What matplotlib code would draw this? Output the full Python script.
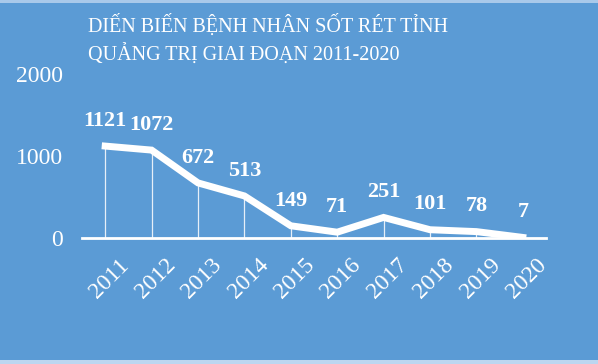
import numpy as np
import matplotlib.pyplot as plt
import matplotlib.transforms as mtransforms
from matplotlib.patches import Rectangle

years = ['2011', '2012', '2013', '2014', '2015', '2016', '2017', '2018', '2019', '2020']
patients = [1121, 1072, 672, 513, 149, 71, 251, 101, 78, 7]
yticks = [0, 1000, 2000]
title = "DIẾN BIẾN BỆNH NHÂN SỐT RÉT TỈNH\nQUẢNG TRỊ GIAI ĐOẠN 2011-2020"

bg = '#5b9bd5'
plt.rcParams['font.family'] = ['Liberation Serif', 'DejaVu Serif']

fig = plt.figure(figsize=(5.98, 3.64), dpi=100)
fig.patch.set_facecolor(bg)

# light strips at top and bottom edge
fig.patches.append(Rectangle((0, 1 - 3 / 364), 1, 3 / 364, transform=fig.transFigure,
                             facecolor='#a9c9ea', edgecolor='none'))
fig.patches.append(Rectangle((0, 0), 1, 4 / 364, transform=fig.transFigure,
                             facecolor='#bcd6f0', edgecolor='none'))

ax = fig.add_axes([82 / 598, 1 - 238 / 364, 464 / 598, 164 / 364])
ax.set_facecolor(bg)

x = np.arange(len(years))
# drop lines
ax.vlines(x, 0, patients, colors='white', linewidth=0.9, alpha=0.85)
ax.plot(x, patients, color='white', linewidth=5, solid_joinstyle='miter', zorder=3)

for xi, v in zip(x, patients):
    ax.annotate(str(v), (xi, v), xytext=(0, 11), textcoords='offset points',
                ha='center', va='bottom', color='white', fontsize=16, fontweight='bold')

ax.set_xlim(-0.5, len(years) - 0.5)
ax.set_ylim(0, 2000)
ax.set_xticks(x)
ax.set_xticklabels(years, rotation=45, ha='center', fontsize=17, color='white')
ax.set_yticks(yticks)
ax.set_yticklabels([str(t) for t in yticks], fontsize=17, color='white')
ax.tick_params(axis='y', length=0, pad=14)
ax.tick_params(axis='x', length=0, pad=12)

# nudge x labels a little to the right
shift = mtransforms.ScaledTranslation(4 / 100, 0, fig.dpi_scale_trans)
for lab in ax.get_xticklabels():
    lab.set_transform(lab.get_transform() + shift)

for s in ['top', 'right', 'left']:
    ax.spines[s].set_visible(False)
ax.spines['bottom'].set_color('white')
ax.spines['bottom'].set_linewidth(2)

fig.text(88 / 598, 1 - 15 / 364, title, ha='left', va='top', color='white',
         fontsize=14.5, linespacing=1.45)

fig.savefig('out.png', dpi=100, facecolor=bg)
